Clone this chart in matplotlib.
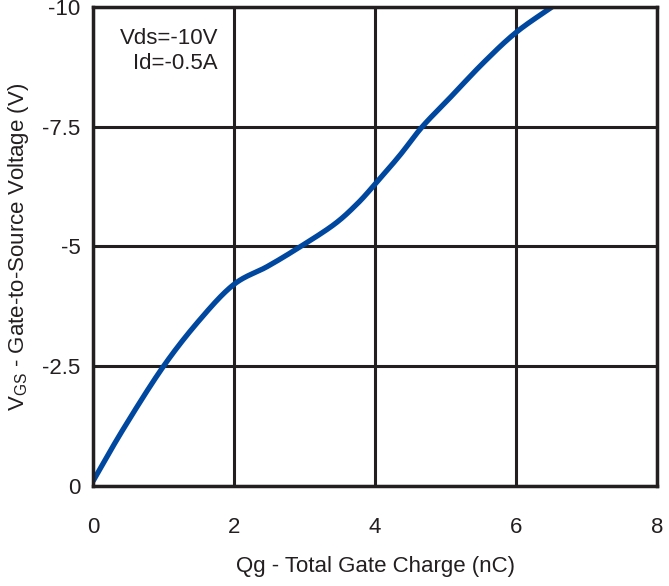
import numpy as np
import matplotlib
matplotlib.use("Agg")
import matplotlib.pyplot as plt
from matplotlib.ticker import FixedLocator

# gate charge curve
qg = [0.0, 0.43, 1.0, 1.52, 2.0, 2.47, 2.89, 3.41, 3.74, 4.0, 4.35, 4.67, 5.06, 5.54, 6.01, 6.55]
vgs = [-0.1, -1.19, -2.5, -3.48, -4.21, -4.58, -4.95, -5.45, -5.88, -6.3, -6.9, -7.5, -8.1, -8.84, -9.48, -10.04]

x_ticks = [0, 2, 4, 6, 8]
y_ticks = [0, -2.5, -5, -7.5, -10]
y_tick_labels = ["0", "-2.5", "-5", "-7.5", "-10"]

plt.rcParams['font.family'] = ['Liberation Sans', 'DejaVu Sans']
ink = '#231f20'


def catmull_rom(x, y, n=30):
    # smooth curve through the read points
    p = np.column_stack([x, y]).astype(float)
    p = np.vstack([2*p[0] - p[1], p, 2*p[-1] - p[-2]])
    out = []
    t = np.linspace(0, 1, n, endpoint=False)[:, None]
    for i in range(1, len(p) - 2):
        p0, p1, p2, p3 = p[i-1], p[i], p[i+1], p[i+2]
        seg = 0.5 * ((2*p1) + (-p0 + p2)*t + (2*p0 - 5*p1 + 4*p2 - p3)*t**2
                     + (-p0 + 3*p1 - 3*p2 + p3)*t**3)
        out.append(seg)
    out.append(p[-2][None, :])
    out = np.vstack(out)
    return out[:, 0], out[:, 1]


fig = plt.figure(figsize=(6.69, 5.86), dpi=100)
ax = fig.add_axes([93/669, 1 - 486/586, (657 - 93)/669, (486 - 7)/586])

xs, ys = catmull_rom(qg, vgs)
ax.plot(xs, ys, color='#0047a0', lw=3.8, solid_capstyle='butt')

ax.set_xlim(0, 8)
ax.set_ylim(0, -10)
ax.xaxis.set_major_locator(FixedLocator(x_ticks))
ax.yaxis.set_major_locator(FixedLocator(y_ticks))
ax.set_yticklabels(y_tick_labels)
ax.grid(True, color=ink, lw=2.2)
ax.set_axisbelow(True)
for s in ax.spines.values():
    s.set_color(ink)
    s.set_linewidth(2.5)
ax.tick_params(length=0, labelsize=16, colors=ink)
ax.tick_params(axis='x', pad=22)
ax.tick_params(axis='y', pad=9)

ax.set_xlabel("Qg - Total Gate Charge (nC)", fontsize=16, color=ink, labelpad=13)
ax.set_ylabel("V$_\\mathregular{GS}$ - Gate-to-Source Voltage (V)", fontsize=16, color=ink, labelpad=8)

ax.text(0.2216, 0.957, "Vds=-10V\nId=-0.5A", transform=ax.transAxes, ha='right', va='top',
        fontsize=16, color=ink, linespacing=1.25)

fig.savefig("out.png", dpi=100)
